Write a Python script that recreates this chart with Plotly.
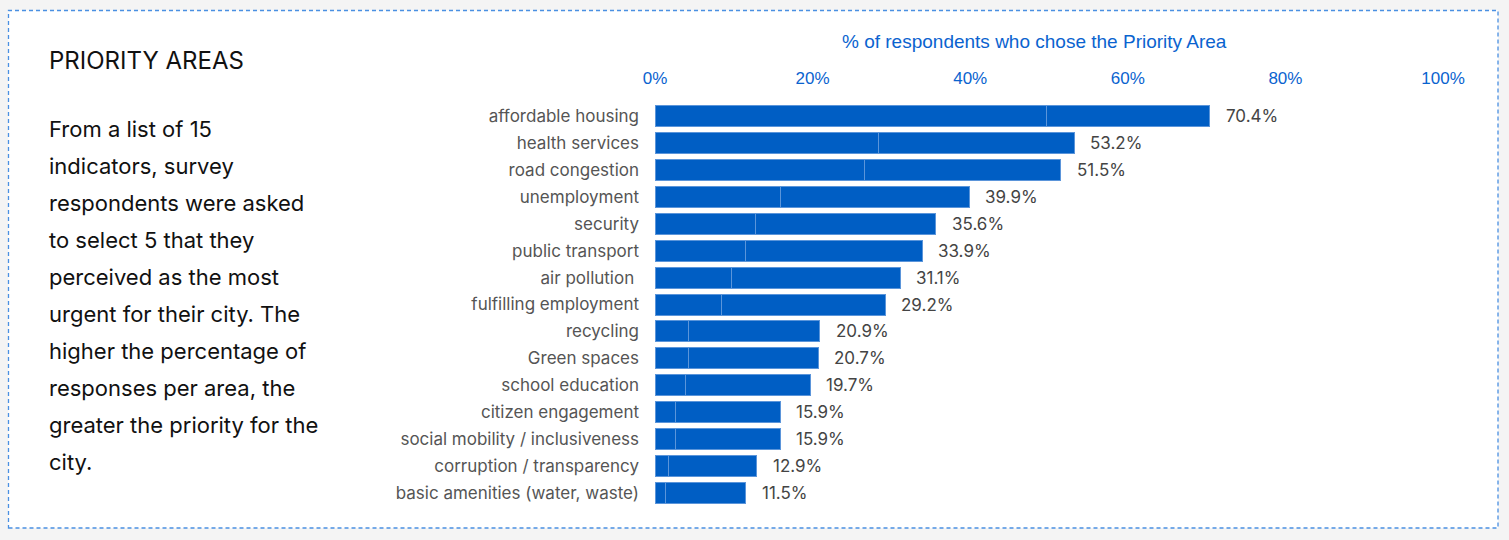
import plotly.graph_objects as go

W, H = 1509, 540

categories = [
    "affordable housing", "health services", "road congestion", "unemployment",
    "security", "public transport", "air pollution ", "fulfilling employment",
    "recycling", "Green spaces", "school education", "citizen engagement",
    "social mobility / inclusiveness", "corruption / transparency",
    "basic amenities (water, waste)",
]
totals = [70.4, 53.2, 51.5, 39.9, 35.6, 33.9, 31.1, 29.2, 20.9, 20.7, 19.7, 15.9, 15.9, 12.9, 11.5]
first_part = [49.7, 28.4, 26.6, 15.9, 12.8, 11.5, 9.7, 8.5, 4.3, 4.3, 3.9, 2.6, 2.6, 1.7, 1.3]
second_part = [round(t - f, 1) for t, f in zip(totals, first_part)]
x_ticks = [0, 20, 40, 60, 80, 100]
x_tick_labels = [f"{v}%" for v in x_ticks]

title_text = "PRIORITY AREAS"
body_lines = [
    "From a list of 15", "indicators, survey", "respondents were asked",
    "to select 5 that they", "perceived as the most", "urgent for their city. The",
    "higher the percentage of", "responses per area, the",
    "greater the priority for the", "city.",
]
axis_title = "% of respondents who chose the Priority Area"

BLUE = "#005EC4"
EDGE = "#5B95DA"
FONT = "Inter, Lato, sans-serif"
ARIAL = "Liberation Sans, Arial, sans-serif"

fig = go.Figure()
for part in (first_part, second_part):
    fig.add_trace(go.Bar(
        y=categories, x=part, orientation="h",
        marker=dict(color=BLUE, line=dict(color=EDGE, width=1)),
        hoverinfo="skip", showlegend=False,
    ))

def px(x):
    return x / W

def py(y):
    return 1 - y / H

annotations = []
for c, t in zip(categories, totals):
    annotations.append(dict(
        x=t, y=c, xref="x", yref="y", text=f"{t:.1f}%", showarrow=False,
        xanchor="left", yanchor="middle", xshift=14,
        font=dict(family=FONT, size=17, color="#444444"),
    ))

annotations.append(dict(
    x=px(1034), y=py(42), xref="paper", yref="paper", text=axis_title,
    showarrow=False, xanchor="center", yanchor="middle",
    font=dict(family=ARIAL, size=19, color="#0A63CF"),
))
annotations.append(dict(
    x=px(47), y=py(61), xref="paper", yref="paper", text=title_text,
    showarrow=False, xanchor="left", yanchor="middle",
    font=dict(family=FONT, size=24, color="#111111"),
))
for i, line in enumerate(body_lines):
    annotations.append(dict(
        x=px(47), y=py(129 + 37 * i), xref="paper", yref="paper", text=line,
        showarrow=False, xanchor="left", yanchor="middle",
        font=dict(family=FONT, size=22, color="#111111"),
    ))

shapes = [dict(
    type="rect", xref="paper", yref="paper", layer="below",
    x0=px(8.5), x1=px(1498), y0=py(528), y1=py(10.5),
    fillcolor="white", line=dict(color="#4A90E2", width=1.3, dash="4px,3px"),
)]

fig.update_layout(
    width=W, height=H,
    margin=dict(l=0, r=0, t=0, b=0),
    paper_bgcolor="#F4F4F4", plot_bgcolor="rgba(0,0,0,0)",
    barmode="stack", bargap=0.22,
    shapes=shapes, annotations=annotations,
    xaxis=dict(
        domain=[655 / W, 1443 / W], range=[0, 100], side="top",
        tickvals=x_ticks, ticktext=x_tick_labels, showgrid=False, zeroline=False,
        showline=False, ticks="", automargin=False, fixedrange=True,
        tickfont=dict(family=ARIAL, size=17, color="#0A63CF"),
        ticklabelstandoff=14,
    ),
    yaxis=dict(
        domain=[py(506.5), py(102.5)], autorange="reversed",
        showgrid=False, zeroline=False, showline=False, ticks="",
        automargin=False, fixedrange=True, ticklabelstandoff=15,
        tickfont=dict(family=FONT, size=17, color="#555555"),
    ),
)

fig.write_html(
    "out.html",
    config={"displayModeBar": False},
    post_script="document.body.style.margin='0';document.body.style.background='#F4F4F4';",
)
